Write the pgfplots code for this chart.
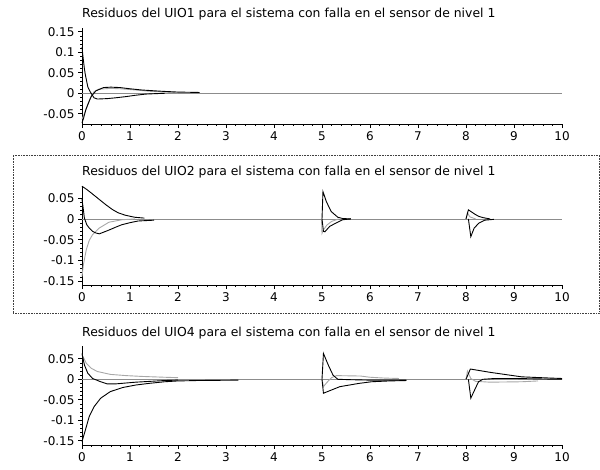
\documentclass[border=0pt]{standalone}
\usepackage{pgfplots}
\pgfplotsset{compat=1.18}
\usepackage{fontspec}
\setmainfont{DejaVu Sans}
\newcommand{\tf}{\fontsize{12bp}{14bp}\selectfont}
\newcommand{\ttf}{\fontsize{12.4bp}{14bp}\selectfont}
\definecolor{zl}{HTML}{8C8C8C}
\definecolor{gr}{HTML}{A8A8A8}
\pgfplotsset{
  res/.style={
    scale only axis, width=480bp,
    xmin=0, xmax=10, enlargelimits=false,
    axis lines=left, axis line style={-, black, line width=0.7bp},
    xtick={0,1,...,10}, minor x tick num=4,
    minor y tick num=4,
    tick align=outside, major tick length=4bp, minor tick length=2bp,
    tick style={black, line width=0.6bp},
    tick label style={font=\tf},
    /pgf/number format/assume math mode=true,
    title style={at={(rel axis cs:0,1)}, anchor=base west, yshift=4bp, inner sep=0pt, font=\ttf},
    clip=false,
  },
  bk/.style={black, line width=0.9bp, no marks},
  gy/.style={gr, line width=0.9bp, no marks},
  zr/.style={zl, line width=0.8bp, no marks},
}
\begin{document}
\begin{tikzpicture}
\useasboundingbox (0,0) rectangle (600bp,470bp);
\draw[densely dotted, black!75, line width=0.6bp] (13bp,157bp) rectangle (599.3bp,315bp);
% ---------- UIO1 ----------
\begin{axis}[res, at={(82bp,345.95bp)}, anchor=south west, height=96.35bp,
  ymin=-0.075, ymax=0.16,
  ytick={-0.05,0,0.05,0.1,0.15}, yticklabels={-0.05,0,0.05,0.1,0.15},
  title={Residuos del UIO1 para el sistema con falla en el sensor de nivel 1}]
\addplot[zr] coordinates {(0,0)(10,0)};
\addplot[gy] coordinates {(0,-0.063)(0.05,-0.05)(0.09,-0.037)(0.15,-0.018)(0.25,0.004)(0.35,0.010)(0.59,0.012)(0.8,0.011)(1.12,0.008)(1.4,0.005)(1.72,0.003)(2.0,0.001)};
\addplot[bk] coordinates {(0,0.113)(0.02,0.09)(0.05,0.06)(0.07,0.045)(0.1,0.028)(0.12,0.016)(0.16,0.006)(0.19,0)(0.25,-0.011)(0.32,-0.014)(0.52,-0.013)(0.7,-0.011)(0.92,-0.008)(1.1,-0.005)(1.32,-0.002)(1.5,-0.001)(1.72,0)};
\addplot[bk] coordinates {(0,-0.072)(0.03,-0.062)(0.05,-0.053)(0.08,-0.04)(0.12,-0.028)(0.19,-0.008)(0.29,0.006)(0.45,0.014)(0.6,0.015)(0.79,0.014)(1.0,0.011)(1.25,0.008)(1.65,0.005)(2.0,0.003)(2.45,0.002)};
\end{axis}
% ---------- UIO2 ----------
\begin{axis}[res, at={(82bp,184.8bp)}, anchor=south west, height=99.4bp,
  ymin=-0.16, ymax=0.08,
  ytick={-0.15,-0.1,-0.05,0,0.05}, yticklabels={-0.15,-0.1,-0.05,0,0.05},
  title={Residuos del UIO2 para el sistema con falla en el sensor de nivel 1}]
\addplot[zr] coordinates {(0,0)(10,0)};
\addplot[gy] coordinates {(0,-0.139)(0.03,-0.11)(0.09,-0.074)(0.15,-0.052)(0.22,-0.038)(0.36,-0.022)(0.56,-0.008)(0.83,-0.002)(1.1,0)};
\addplot[bk] coordinates {(0,0.079)(0.1,0.071)(0.2,0.062)(0.36,0.047)(0.5,0.034)(0.63,0.023)(0.75,0.015)(0.9,0.009)(1.1,0.004)(1.3,0.002)};
\addplot[bk] coordinates {(0,0.048)(0.02,0.03)(0.05,0.002)(0.1,-0.014)(0.15,-0.022)(0.22,-0.03)(0.29,-0.034)(0.36,-0.036)(0.45,-0.032)(0.56,-0.027)(0.7,-0.02)(0.83,-0.014)(1.0,-0.009)(1.17,-0.005)(1.5,-0.003)};
% t = 5
\addplot[gy] coordinates {(4.99,0)(5.0,-0.035)(5.04,-0.025)(5.1,-0.015)(5.2,-0.006)(5.35,0)};
\addplot[bk] coordinates {(5,0)(5.02,0.066)(5.09,0.042)(5.19,0.018)(5.33,0.004)(5.43,0.001)(5.6,0)};
\addplot[bk] coordinates {(5,0)(5.03,-0.03)(5.06,-0.031)(5.16,-0.018)(5.29,-0.01)(5.43,-0.002)(5.6,0)};
% t = 8
\addplot[gy] coordinates {(8.0,0)(8.03,0.015)(8.08,0.005)(8.2,0)};
\addplot[bk] coordinates {(8.0,0)(8.05,0.022)(8.1,0.018)(8.19,0.011)(8.27,0.006)(8.36,0.003)(8.5,0)};
\addplot[bk] coordinates {(8.05,0)(8.1,-0.043)(8.17,-0.022)(8.27,-0.01)(8.39,-0.003)(8.58,-0.001)};
\end{axis}
% ---------- UIO4 ----------
\begin{axis}[res, at={(82bp,25.1bp)}, anchor=south west, height=98.4bp,
  ymin=-0.16, ymax=0.08,
  ytick={-0.15,-0.1,-0.05,0,0.05}, yticklabels={-0.15,-0.1,-0.05,0,0.05},
  title={Residuos del UIO4 para el sistema con falla en el sensor de nivel 1}]
\addplot[zr] coordinates {(0,0)(10,0)};
\addplot[gy] coordinates {(0,0.06)(0.09,0.039)(0.19,0.027)(0.32,0.019)(0.59,0.012)(0.92,0.009)(1.25,0.007)(1.72,0.005)(2.0,0.004)};
\addplot[bk] coordinates {(0,-0.152)(0.03,-0.14)(0.07,-0.124)(0.15,-0.091)(0.25,-0.067)(0.39,-0.046)(0.59,-0.030)(0.85,-0.020)(1.12,-0.014)(1.39,-0.010)(1.72,-0.006)(2.0,-0.004)(2.4,-0.003)(3.26,-0.002)};
\addplot[bk] coordinates {(0,0.063)(0.05,0.035)(0.12,0.015)(0.22,0.002)(0.39,-0.006)(0.52,-0.011)(0.72,-0.011)(1.12,-0.007)(1.72,-0.003)(2.0,-0.002)};
% t = 5
\addplot[gy] coordinates {(5.0,0)(5.03,-0.018)(5.1,-0.008)(5.2,0.004)(5.3,0.009)(5.8,0.008)(6.0,0.005)(6.3,0.003)(6.6,0.002)};
\addplot[bk] coordinates {(5.0,0)(5.03,0.063)(5.13,0.035)(5.23,0.01)(5.33,0)(5.6,-0.001)(6.0,-0.002)(6.76,-0.002)};
\addplot[bk] coordinates {(5.0,0)(5.03,-0.034)(5.37,-0.018)(5.77,-0.01)(6.03,-0.006)(6.4,-0.004)(6.76,-0.003)};
% t = 8
\addplot[gy] coordinates {(8.0,0)(8.03,0.02)(8.1,0.002)(8.2,-0.005)(8.5,-0.007)(9.16,-0.006)(9.5,-0.004)};
\addplot[bk] coordinates {(8.0,0)(8.09,0.025)(8.5,0.017)(9.16,0.006)(9.76,0.003)(10,0.002)};
\addplot[bk] coordinates {(8.05,0)(8.1,-0.046)(8.26,-0.006)(8.35,0)(8.6,0.002)(9.0,0.002)(9.5,0.001)(10,0)};
\end{axis}
\end{tikzpicture}
\end{document}
